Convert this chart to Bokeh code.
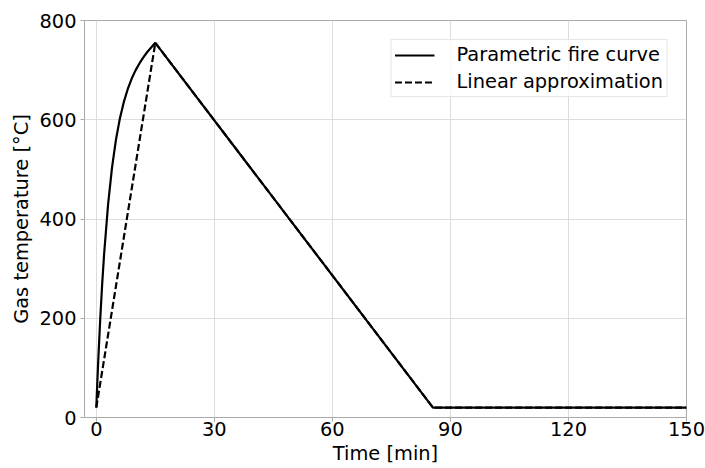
from bokeh.plotting import figure
from bokeh.models import Range1d, Legend, LegendItem, FixedTicker
from bokeh.embed import file_html
from bokeh.resources import INLINE

# Parametric fire curve
time_param = [0, 0.25, 0.5, 1, 1.5, 2, 3, 4, 5, 6, 7, 8, 9, 10, 11, 12, 13, 14, 15, 85.56, 150]
temp_param = [20, 70, 116, 199, 270, 331, 430, 504, 560, 603, 636, 662, 683, 700, 714, 726, 737, 746, 755, 20, 20]

# Linear approximation
time_lin = [0, 15, 85.56, 150]
temp_lin = [20, 755, 20, 20]

x_ticks = [0, 30, 60, 90, 120, 150]
y_ticks = [0, 200, 400, 600, 800]

FONT = "DejaVu Sans"
FS = "19.4px"

p = figure(width=705, height=468, output_backend="svg", toolbar_location=None,
           x_range=Range1d(-3, 150), y_range=Range1d(0, 800),
           min_border_left=84, min_border_right=19, min_border_top=20, min_border_bottom=51)

r1 = p.line(time_param, temp_param, line_color="black", line_width=2.2)
r2 = p.line(time_lin, temp_lin, line_color="black", line_width=2.2, line_dash="7 3")

p.xaxis.ticker = FixedTicker(ticks=x_ticks)
p.yaxis.ticker = FixedTicker(ticks=y_ticks)
p.xaxis.axis_label = "Time [min]"
p.yaxis.axis_label = "Gas temperature [°C]"

for ax in (p.xaxis, p.yaxis):
    ax.axis_line_color = None
    ax.major_tick_line_color = "#aaaaaa"
    ax.major_tick_out = 4
    ax.major_tick_in = 0
    ax.minor_tick_line_color = None
    ax.major_label_text_font = FONT
    ax.major_label_text_font_size = FS
    ax.major_label_text_color = "black"
    ax.axis_label_text_font = FONT
    ax.axis_label_text_font_size = FS
    ax.axis_label_text_font_style = "normal"
    ax.axis_label_text_color = "black"

p.xaxis.major_label_standoff = 0
p.yaxis.major_label_standoff = 4
p.xaxis.axis_label_standoff = 3
p.yaxis.axis_label_standoff = 3

p.grid.grid_line_color = "#dddddd"
p.grid.grid_line_width = 1
p.outline_line_color = "#aaaaaa"
p.outline_line_width = 1
p.background_fill_color = "white"
p.border_fill_color = "white"

legend = Legend(items=[LegendItem(label="Parametric fire curve", renderers=[r1]),
                       LegendItem(label="Linear approximation", renderers=[r2])],
                location="top_right")
legend.margin = 19
legend.padding = 3
legend.spacing = 4
legend.glyph_width = 40
legend.glyph_height = 20
legend.label_standoff = 22
legend.label_text_font = FONT
legend.label_text_font_size = FS
legend.label_text_color = "black"
legend.border_line_color = "#cccccc"
legend.background_fill_alpha = 0.8
p.add_layout(legend)

open("out.html", "w").write(file_html(p, INLINE))
